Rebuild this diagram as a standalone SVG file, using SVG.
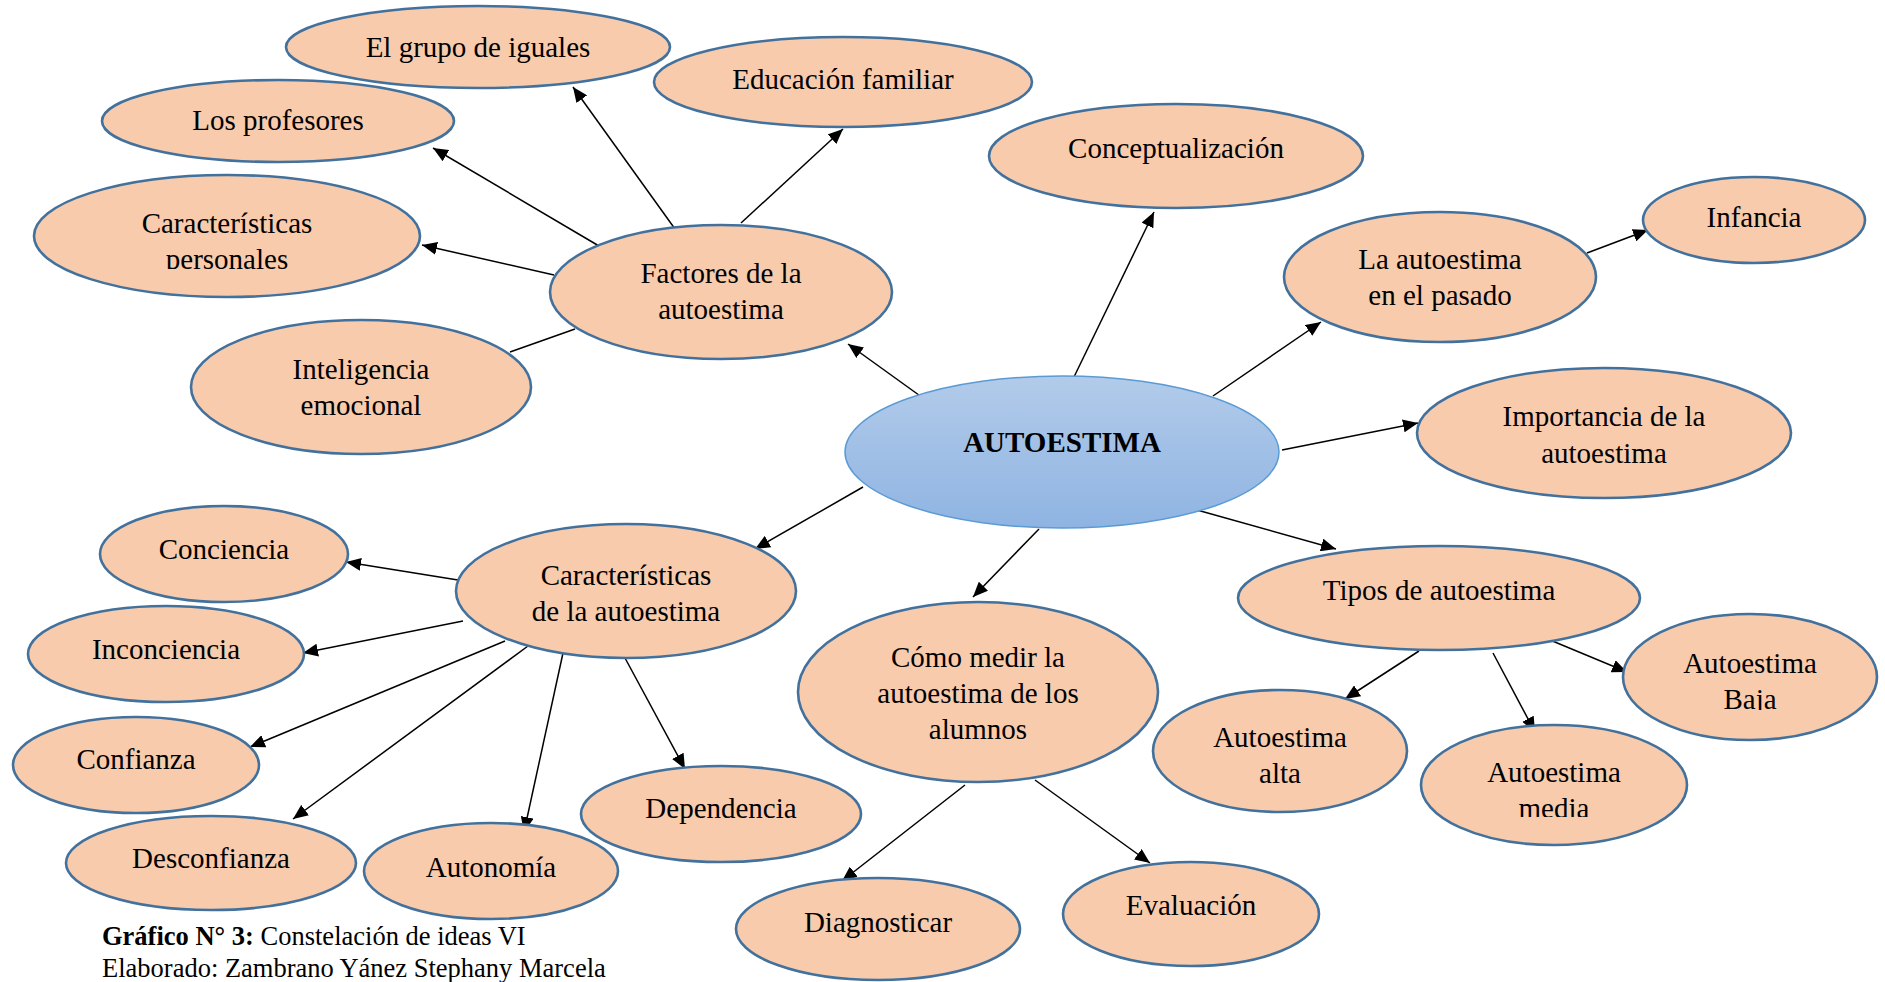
<svg xmlns="http://www.w3.org/2000/svg" width="1885" height="982" viewBox="0 0 1885 982">
<style>
.n ellipse{fill:#F8CBAD;stroke:#41719C;stroke-width:2.6}
.n text,.c text{font-family:"Liberation Serif","Times New Roman",serif;font-size:29px;fill:#000;text-anchor:middle}
.ln line{stroke:#000;stroke-width:1.5;fill:none}
.ln line.a{marker-end:url(#ah)}
.cap{font-family:"Liberation Serif","Times New Roman",serif;font-size:26.5px;fill:#000}
</style>
<defs>
<marker id="ah" viewBox="0 0 15 13" refX="15" refY="6.5" markerWidth="15" markerHeight="13" markerUnits="userSpaceOnUse" orient="auto">
<path d="M0,0 L15,6.5 L0,13 Z" fill="#000"/>
</marker>
<linearGradient id="cg" x1="0" y1="0" x2="0" y2="1">
<stop offset="0" stop-color="#B2CBEA"/>
<stop offset="1" stop-color="#8FB4E2"/>
</linearGradient>
<clipPath id="clipPers"><rect x="0" y="0" width="500" height="269"/></clipPath>
<clipPath id="clipMedia"><rect x="1400" y="600" width="300" height="217"/></clipPath>
<clipPath id="clipBaja"><rect x="1600" y="600" width="285" height="110"/></clipPath>
</defs>

<g class="ln" id="connectors">
<line class="a" x1="923" y1="398" x2="848" y2="344"/>
<line class="a" x1="675" y1="229" x2="573" y2="87"/>
<line class="a" x1="741" y1="223" x2="843" y2="129"/>
<line class="a" x1="599" y1="246" x2="433" y2="148"/>
<line class="a" x1="554" y1="275" x2="422" y2="245"/>
<line x1="510" y1="352" x2="575" y2="329"/>
<line class="a" x1="1073" y1="379" x2="1154" y2="212"/>
<line class="a" x1="1213" y1="396" x2="1321" y2="322"/>
<line class="a" x1="1587" y1="253" x2="1648" y2="230"/>
<line class="a" x1="1282" y1="450" x2="1418" y2="423"/>
<line class="a" x1="1197" y1="510" x2="1336" y2="549"/>
<line class="a" x1="1419" y1="651" x2="1345" y2="699"/>
<line class="a" x1="1493" y1="653" x2="1535" y2="732"/>
<line class="a" x1="1550" y1="640" x2="1627" y2="672"/>
<line class="a" x1="1039" y1="529" x2="973" y2="597"/>
<line class="a" x1="965" y1="785" x2="842" y2="881"/>
<line class="a" x1="1035" y1="780" x2="1150" y2="863"/>
<line class="a" x1="863" y1="487" x2="755" y2="549"/>
<line class="a" x1="458" y1="580" x2="346" y2="562"/>
<line class="a" x1="463" y1="621" x2="303" y2="653"/>
<line class="a" x1="505" y1="641" x2="250" y2="747"/>
<line class="a" x1="528" y1="646" x2="293" y2="819"/>
<line class="a" x1="563" y1="653" x2="524" y2="832"/>
<line class="a" x1="625" y1="658" x2="685" y2="769"/>
</g>

<g class="c" id="n-autoestima">
<ellipse cx="1062" cy="452" rx="217" ry="76" fill="url(#cg)" stroke="#5B9BD5" stroke-width="1.5"/>
<text x="1062" y="452" font-weight="bold">AUTOESTIMA</text>
</g>

<g class="n" id="n-grupo"><ellipse cx="478" cy="47" rx="192" ry="41"/><text x="478" y="57">El grupo de iguales</text></g>
<g class="n" id="n-educacion"><ellipse cx="843" cy="82" rx="189" ry="45"/><text x="843" y="89">Educación familiar</text></g>
<g class="n" id="n-profesores"><ellipse cx="278" cy="121" rx="176" ry="41"/><text x="278" y="130">Los profesores</text></g>
<g class="n" id="n-personales"><ellipse cx="227" cy="236" rx="193" ry="61"/><text x="227" clip-path="url(#clipPers)"><tspan x="227" y="233">Características</tspan><tspan x="227" y="269">personales</tspan></text></g>
<g class="n" id="n-factores"><ellipse cx="721" cy="292" rx="171" ry="67"/><text><tspan x="721" y="283">Factores de la</tspan><tspan x="721" y="319">autoestima</tspan></text></g>
<g class="n" id="n-inteligencia"><ellipse cx="361" cy="387" rx="170" ry="67"/><text><tspan x="361" y="379">Inteligencia</tspan><tspan x="361" y="415">emocional</tspan></text></g>
<g class="n" id="n-concept"><ellipse cx="1176" cy="156" rx="187" ry="52"/><text x="1176" y="158">Conceptualización</text></g>
<g class="n" id="n-pasado"><ellipse cx="1440" cy="277" rx="156" ry="65"/><text><tspan x="1440" y="269">La autoestima</tspan><tspan x="1440" y="305">en el pasado</tspan></text></g>
<g class="n" id="n-infancia"><ellipse cx="1754" cy="220" rx="111" ry="43"/><text x="1754" y="227">Infancia</text></g>
<g class="n" id="n-importancia"><ellipse cx="1604" cy="433" rx="187" ry="65"/><text><tspan x="1604" y="426">Importancia de la</tspan><tspan x="1604" y="463">autoestima</tspan></text></g>
<g class="n" id="n-tipos"><ellipse cx="1439" cy="598" rx="201" ry="52"/><text x="1439" y="600">Tipos de autoestima</text></g>
<g class="n" id="n-alta"><ellipse cx="1280" cy="751" rx="127" ry="61"/><text><tspan x="1280" y="747">Autoestima</tspan><tspan x="1280" y="783">alta</tspan></text></g>
<g class="n" id="n-media"><ellipse cx="1554" cy="785" rx="133" ry="60"/><text clip-path="url(#clipMedia)"><tspan x="1554" y="782">Autoestima</tspan><tspan x="1554" y="818">media</tspan></text></g>
<g class="n" id="n-baja"><ellipse cx="1750" cy="677" rx="127" ry="63"/><text clip-path="url(#clipBaja)"><tspan x="1750" y="673">Autoestima</tspan><tspan x="1750" y="709">Baja</tspan></text></g>
<g class="n" id="n-medir"><ellipse cx="978" cy="692" rx="180" ry="90"/><text><tspan x="978" y="667">Cómo medir la</tspan><tspan x="978" y="703">autoestima de los</tspan><tspan x="978" y="739">alumnos</tspan></text></g>
<g class="n" id="n-diagnosticar"><ellipse cx="878" cy="929" rx="142" ry="51"/><text x="878" y="932">Diagnosticar</text></g>
<g class="n" id="n-evaluacion"><ellipse cx="1191" cy="914" rx="128" ry="52"/><text x="1191" y="915">Evaluación</text></g>
<g class="n" id="n-caracteristicas"><ellipse cx="626" cy="591" rx="170" ry="67"/><text><tspan x="626" y="585">Características</tspan><tspan x="626" y="621">de la autoestima</tspan></text></g>
<g class="n" id="n-conciencia"><ellipse cx="224" cy="554" rx="124" ry="48"/><text x="224" y="559">Conciencia</text></g>
<g class="n" id="n-inconciencia"><ellipse cx="166" cy="654" rx="138" ry="48"/><text x="166" y="659">Inconciencia</text></g>
<g class="n" id="n-confianza"><ellipse cx="136" cy="765" rx="123" ry="48"/><text x="136" y="769">Confianza</text></g>
<g class="n" id="n-desconfianza"><ellipse cx="211" cy="863" rx="145" ry="47"/><text x="211" y="868">Desconfianza</text></g>
<g class="n" id="n-autonomia"><ellipse cx="491" cy="871" rx="127" ry="48"/><text x="491" y="877">Autonomía</text></g>
<g class="n" id="n-dependencia"><ellipse cx="721" cy="814" rx="140" ry="48"/><text x="721" y="818">Dependencia</text></g>

<g id="caption">
<text class="cap" x="102" y="945"><tspan font-weight="bold">Gráfico N° 3:</tspan> Constelación de ideas VI</text>
<text class="cap" x="102" y="977">Elaborado: Zambrano Yánez Stephany Marcela</text>
</g>
</svg>
